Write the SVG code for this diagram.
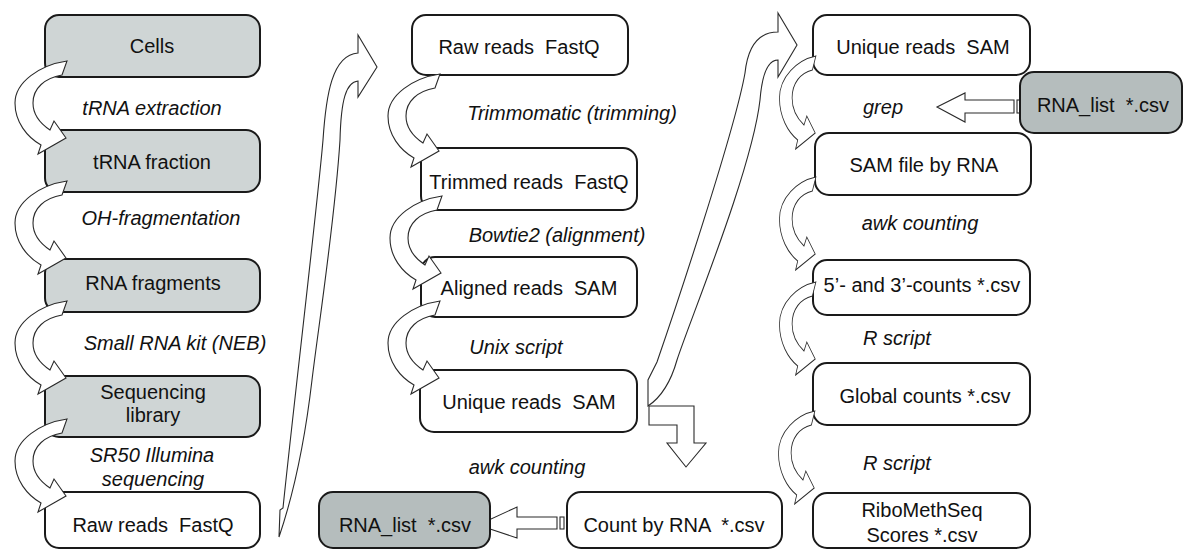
<svg xmlns="http://www.w3.org/2000/svg" xmlns:xlink="http://www.w3.org/1999/xlink" width="1183" height="550" viewBox="0 0 1183 550">
<style>
.box{fill:#fff;stroke:#1a1a1a;stroke-width:2}
.g1{fill:#cfd5d5}
.g2{fill:#b5bdbd}
.arr{fill:#fff;stroke:#2a2a2a;stroke-width:1.1;stroke-linejoin:miter}
text{font-family:"Liberation Sans",Arial,sans-serif;font-size:20px;fill:#111;text-anchor:middle;white-space:pre}
.it{font-style:italic}
</style>
<defs>
<path id="ca" d="M67,61 C40,65 15,82 15,103 C15,122 27,137 41,145 L38,154 L66,138 L54,121 L50,130 C38,122 33,112 33,103 C33,88 45,78 62,75 Z"/>
</defs>

<g id="connectors">
<path class="arr" d="M279,537 L280,510 L283,508 C292,420 318,200 323,140 C326,95 332,55 358,53 L358,35 L377,67 L358,97 L358,81 C346,82 341,100 340,140 C335,220 318,330 312,380 C305,440 295,490 279,537 Z"/>
<path class="arr" d="M648,406 L648,380 L657,362 C675,310 735,130 745,73 C748,45 760,32 778,32 L778,13 L797,45 L778,77 L778,60 C768,60 762,75 760,100 C752,170 690,320 677,360 C670,385 660,398 648,406 Z"/>
<path class="arr" d="M649,406 L694,406 L694,443 L706,443 L686,467 L667,443 L677,443 L677,425 L649,425 Z"/>
<path class="arr" d="M478,525 L517,507 L517,517 L557,517 L557,529 L517,529 L517,538 Z"/>
<rect class="arr" x="560" y="517" width="4" height="12"/>
<rect class="arr" x="567" y="517" width="5" height="12"/>
<path class="arr" d="M937,107 L965,93 L965,100 L1014,100 L1014,113 L965,113 L965,122 Z"/>
<rect class="arr" x="1017" y="100" width="4" height="13"/>
<rect class="arr" x="1024" y="100" width="4" height="13"/>
</g>

<g id="col1">
<g id="n-cells"><rect class="box g1" x="45" y="15" width="215" height="62" rx="14"/><text x="152" y="53">Cells</text></g>
<g id="n-trna"><rect class="box g1" x="45" y="130" width="215" height="62" rx="14"/><text x="152" y="169">tRNA fraction</text></g>
<g id="n-frag"><rect class="box g1" x="45" y="259" width="215" height="53" rx="14"/><text x="153" y="290">RNA fragments</text></g>
<g id="n-lib"><rect class="box g1" x="45" y="376" width="215" height="61" rx="14"/><text x="153" y="399">Sequencing</text><text x="153" y="422">library</text></g>
<g id="n-raw1"><rect class="box" x="45" y="492" width="215" height="56" rx="14"/><text x="153" y="532">Raw reads  FastQ</text></g>
</g>

<g id="col2">
<g id="n-raw2"><rect class="box" x="412" y="15" width="216" height="60" rx="14"/><text x="519" y="54">Raw reads  FastQ</text></g>
<g id="n-trim"><rect class="box" x="421" y="148" width="216" height="62" rx="14"/><text x="529" y="189">Trimmed reads  FastQ</text></g>
<g id="n-align"><rect class="box" x="421" y="257" width="216" height="60" rx="14"/><text x="529" y="295">Aligned reads  SAM</text></g>
<g id="n-uniq1"><rect class="box" x="420" y="370" width="217" height="62" rx="14"/><text x="529" y="409">Unique reads  SAM</text></g>
<g id="n-list1"><rect class="box g2" x="319" y="492" width="171" height="56" rx="14"/><text x="405" y="532">RNA_list  *.csv</text></g>
<g id="n-count"><rect class="box" x="567" y="492" width="215" height="56" rx="14"/><text x="674" y="532">Count by RNA  *.csv</text></g>
</g>

<g id="col3">
<g id="n-uniq2"><rect class="box" x="813" y="15" width="217" height="60" rx="14"/><text x="923" y="54">Unique reads  SAM</text></g>
<g id="n-list2"><rect class="box g2" x="1020" y="72" width="162" height="61" rx="14"/><text x="1103" y="112">RNA_list  *.csv</text></g>
<g id="n-samrna"><rect class="box" x="815" y="133" width="216" height="62" rx="14"/><text x="924" y="172">SAM file by RNA</text></g>
<g id="n-53"><rect class="box" x="813" y="260" width="217" height="55" rx="14"/><text x="922" y="292">5’- and 3’-counts *.csv</text></g>
<g id="n-glob"><rect class="box" x="813" y="363" width="217" height="62" rx="14"/><text x="925" y="403">Global counts *.csv</text></g>
<g id="n-score"><rect class="box" x="813" y="493" width="217" height="55" rx="14"/><text x="922" y="517">RiboMethSeq</text><text x="922" y="542">Scores *.csv</text></g>
</g>

<g id="curved-arrows">
<use xlink:href="#ca" class="arr"/>
<use xlink:href="#ca" class="arr" transform="translate(0,120)"/>
<use xlink:href="#ca" class="arr" transform="translate(0,240)"/>
<use xlink:href="#ca" class="arr" transform="translate(0,358)"/>
<use xlink:href="#ca" class="arr" transform="translate(373,13)"/>
<use xlink:href="#ca" class="arr" transform="translate(375,135)"/>
<use xlink:href="#ca" class="arr" transform="translate(373,240)"/>
<use xlink:href="#ca" class="arr" transform="translate(769,-5) scale(0.7,1)"/>
<use xlink:href="#ca" class="arr" transform="translate(769,116) scale(0.7,1)"/>
<use xlink:href="#ca" class="arr" transform="translate(769,221) scale(0.7,1)"/>
<use xlink:href="#ca" class="arr" transform="translate(768,350) scale(0.7,1)"/>
</g>

<g id="labels">
<text class="it" x="152" y="115">tRNA extraction</text>
<text class="it" x="161" y="225">OH-fragmentation</text>
<text class="it" x="175" y="350">Small RNA kit (NEB)</text>
<text class="it" x="152" y="462">SR50 Illumina</text>
<text class="it" x="153" y="486">sequencing</text>
<text class="it" x="572" y="120">Trimmomatic (trimming)</text>
<text class="it" x="557" y="242">Bowtie2 (alignment)</text>
<text class="it" x="516" y="354">Unix script</text>
<text class="it" x="527" y="474">awk counting</text>
<text class="it" x="883" y="114">grep</text>
<text class="it" x="920" y="230">awk counting</text>
<text class="it" x="897" y="345">R script</text>
<text class="it" x="897" y="470">R script</text>
</g>
</svg>
